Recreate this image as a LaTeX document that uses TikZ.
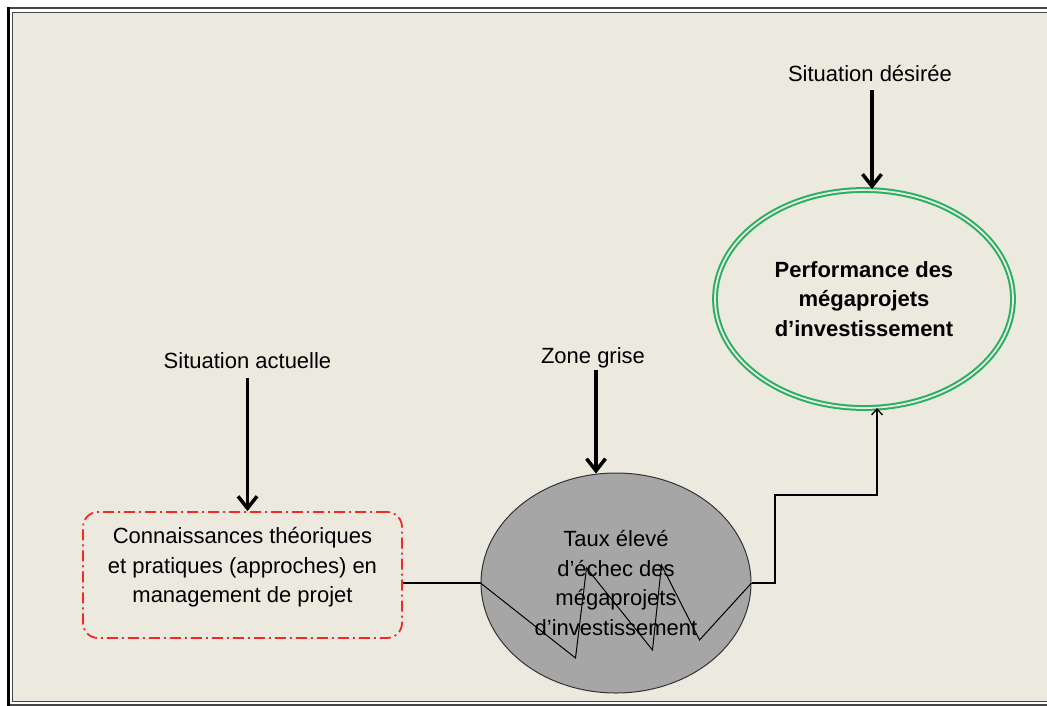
\documentclass[tikz,border=0pt]{standalone}
\usepackage{fontspec}
\setmainfont{Liberation Sans}
\usetikzlibrary{shapes.geometric,arrows.meta,calc}
\definecolor{paper}{RGB}{236,233,223}
\definecolor{framegray}{RGB}{70,70,70}
\definecolor{dashred}{RGB}{245,40,40}
\definecolor{ringgreen}{RGB}{38,176,98}
\definecolor{zonegray}{RGB}{166,166,166}
\begin{document}
\begin{tikzpicture}[x=1pt,y=-1pt,
  every node/.style={font=\fontsize{22pt}{29.5pt}\selectfont, inner sep=0pt},
  caption/.style={anchor=base, text depth=0pt},
  bigarrow/.style={line width=3.5pt, -{Straight Barb[length=12pt,width=19pt]}},
  thinlink/.style={line width=1.3pt},
  thinarrow/.style={line width=1.3pt, -{Straight Barb[length=6pt,width=11pt]}},
  knowbox/.style={draw=dashred, line width=1.8pt, rounded corners=15pt,
    dash pattern=on 11pt off 4pt on 2pt off 4pt,
    minimum width=319pt, minimum height=126pt},
  greyzone/.style={ellipse, draw=black!80, line width=1pt, fill=zonegray,
    minimum width=270pt, minimum height=220pt, align=center},
  goalring/.style={ellipse, draw=ringgreen, line width=2pt, double=paper,
    double distance=1.8pt, minimum width=298pt, minimum height=218pt,
    align=center, font=\fontsize{22pt}{29.5pt}\selectfont\bfseries}
]
\useasboundingbox (0,0) rectangle (1047,705);
\clip (0,0) rectangle (1047,705);
% page and double frame
\fill[white] (0,0) rectangle (1047,705);
\draw[line width=2pt, framegray] (8,7.5) rectangle (1080,704.5);
\draw[line width=3pt] (8.5,6.5) -- (8.5,720);
\filldraw[fill=paper, draw=framegray, line width=1.5pt] (12.5,12.5) rectangle (1070,701.5);

% shapes
\node[knowbox] (box) at (242.5,575) {};
\node[align=center] (boxtxt) at (242.5,567.5)
  {Connaissances théoriques\\et pratiques (approches) en\\management de projet};
\node[greyzone] (grey) at (616,583)
  {Taux élevé\\d’échec des\\mégaprojets\\d’investissement};
\node[goalring] (perf) at (864,299)
  {Performance des\\mégaprojets\\d’investissement};

% captions
\node[caption] (sa) at (247.5,368) {Situation actuelle};
\node[caption] (zg) at (593,363) {Zone grise};
\node[caption] (sd) at (870,81) {Situation désirée};

% downward arrows
\draw[bigarrow] ([yshift=-10pt]sa.south) -- (sa.south |- box.north);
\draw[bigarrow] ([xshift=3pt,yshift=-7pt]zg.south) -- ([xshift=3pt,yshift=-1pt]zg.south |- grey.north);
\draw[bigarrow] ([xshift=2pt,yshift=-9pt]sd.south) -- ([xshift=2pt]sd.south |- perf.north);

% zigzag across the grey zone
\draw[line width=1pt] (grey.west) -- ++(95,75) -- ++(11,-90) -- ++(66,82)
  -- ++(9,-85) -- ++(38,75) -- (grey.east);

% links
\draw[thinlink] (box.east |- grey.west) -- (grey.west);
\coordinate (step) at (775,495);
\draw[thinarrow] (grey.east) -| (step) -| ([xshift=13pt,yshift=1pt]perf.south);
\end{tikzpicture}
\end{document}
